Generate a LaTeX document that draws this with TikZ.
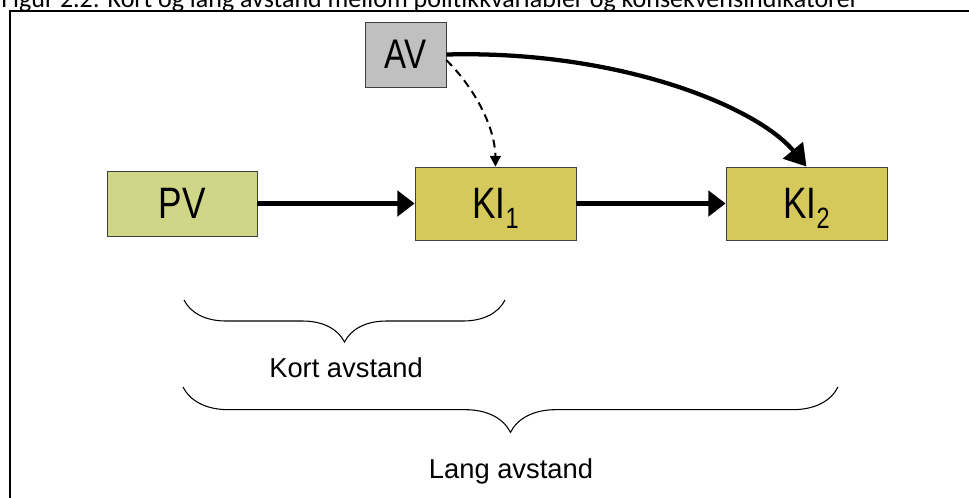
\documentclass[tikz,border=0pt]{standalone}
\usepackage{fontspec}
\setmainfont{Liberation Sans}
\newfontfamily\figcaptionfont{Carlito}
\usetikzlibrary{arrows.meta,decorations.pathreplacing}
\definecolor{avgray}{RGB}{192,192,192}
\definecolor{pvgreen}{RGB}{207,214,136}
\definecolor{kiyellow}{RGB}{214,201,92}
\definecolor{boxline}{RGB}{64,64,64}
\def\narrowtext#1{\scalebox{0.8}[1]{#1}}
\def\lowindex#1{\raisebox{-0.23em}{\fontsize{22}{22}\selectfont #1}}

\begin{document}
\begin{tikzpicture}[x=0.75pt, y=0.75pt,
		varbox/.style={draw=boxline, line width=0.6pt, inner sep=0pt, text depth=0pt, font=\fontsize{33}{33}\selectfont},
		flow/.style={line width=3.2pt, -{Triangle[length=13pt, width=19pt]}},
		bracedown/.style={decorate, decoration={brace, mirror, amplitude=#1}, line width=0.8pt},
		distlabel/.style={anchor=base, inner sep=0pt, font=\fontsize{20.5}{21}\selectfont}]
			%%%%% START %%%%%
			
			\useasboundingbox (0,0) rectangle (969,-497);
			
			\node[anchor=base west, inner sep=0pt, font=\figcaptionfont\fontsize{19.5}{20}\selectfont] (caption) at (1,-7) {Figur 2.2: Kort og lang avstand mellom politikkvariabler og konsekvensindikatorer};
			\draw[line width=1.5pt] (10,-500) -- (10,-11) -- (975,-11);
			
			\node[varbox, fill=avgray, minimum width=60.75pt, minimum height=48.75pt, font=\fontsize{31}{31}\selectfont] (AV) at (405.5,-54.5) {\narrowtext{AV}};
			\node[varbox, fill=pvgreen, minimum width=112.5pt, minimum height=48.75pt] (PV) at (182,-203.5) {\narrowtext{PV}};
			\node[varbox, fill=kiyellow, minimum width=120.75pt, minimum height=54.75pt] (KI1) at (495.5,-203.5) {\narrowtext{KI\lowindex{1}}};
			\node[varbox, fill=kiyellow, minimum width=120.75pt, minimum height=54.75pt] (KI2) at (806.5,-203.5) {\narrowtext{KI\lowindex{2}}};
			
			\draw[flow] (PV) -- (KI1);
			\draw[flow] (KI1) -- (KI2);
			\draw[line width=3.2pt, -{Triangle[length=16pt, width=19pt]}] (AV.east) .. controls (620,-50) and (757,-107) .. (KI2.north);
			\draw[line width=1.5pt, dash pattern=on 6pt off 4pt, -{Triangle[length=8pt, width=8pt]}] (AV.-8) .. controls (472,-85) and (495,-125) .. (KI1.north);
			
			\draw[bracedown=31.5pt] (184,-300) -- (505,-300);
			\node[distlabel] (kort) at (346,-377) {Kort avstand};
			\draw[bracedown=34pt] (183,-387) -- (838,-387);
			\node[distlabel] (lang) at (511,-478) {Lang avstand};
			
			%%%%% END %%%%%
\end{tikzpicture}
\end{document}
